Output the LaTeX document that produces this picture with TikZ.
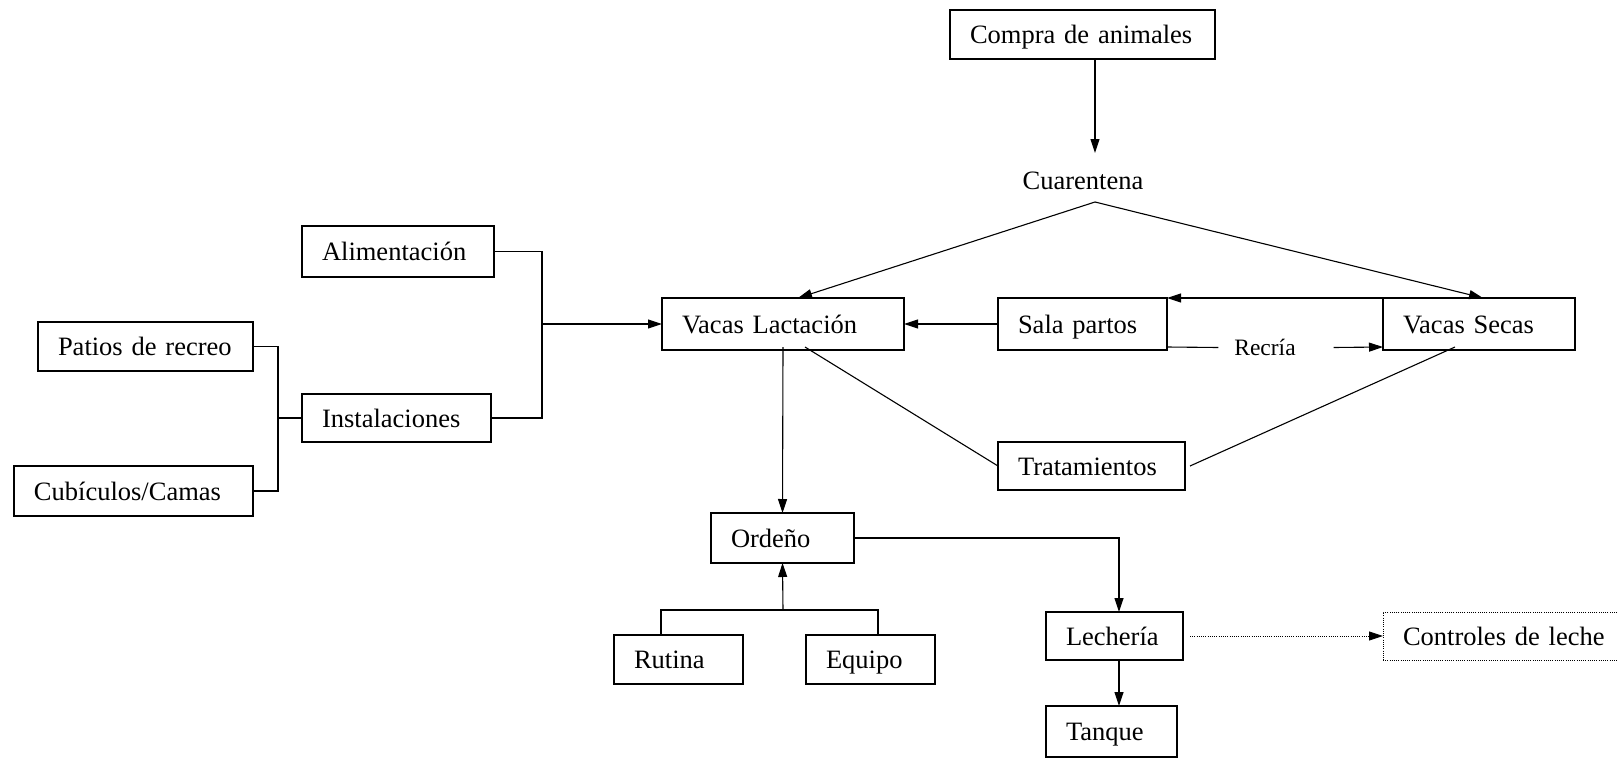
\documentclass[tikz,border=0pt]{standalone}
\usepackage{fontspec}
\setmainfont{Liberation Serif}
\usetikzlibrary{arrows.meta}
\begin{document}
\begin{tikzpicture}[x=1pt,y=-1pt,
  every node/.style={font=\fontsize{26.5}{30}\selectfont, outer sep=0pt, text height=22pt, text depth=4pt},
  bx/.style={draw, line width=1.1pt, align=left, inner xsep=20pt, inner ysep=0pt},
  ln/.style={line width=1.1pt},
  arr/.style={line width=1.1pt, -{Triangle[length=14pt,width=9pt]}},
  dot/.style={dash pattern=on 1pt off 1.2pt, line width=0.9pt}]
\useasboundingbox (0,0) rectangle (1618,758);
\clip (0,0) rectangle (1618,758);
\fill[white] (0,0) rectangle (1618,758);
% nodes
\node[bx, text width=225pt, minimum height=49pt] (compra) at (1082.5,34.5) {Compra de animales};
\node (cuar) at (1083,180) {Cuarentena};
\coordinate (cqtop) at (1095,153);
\coordinate (apex) at (1095,202);
\node[bx, text width=152pt, minimum height=51pt] (alim) at (398,251.5) {Alimentación};
\node[bx, text width=175pt, minimum height=49pt] (patios) at (145.5,346.5) {Patios de recreo};
\node[bx, text width=149pt, minimum height=48pt] (inst) at (396.5,418) {Instalaciones};
\node[bx, text width=199pt, minimum height=50pt] (cubic) at (133.5,491) {Cubículos/Camas};
\node[bx, text width=202pt, minimum height=52pt] (vl) at (783,324) {Vacas Lactación};
\node[bx, text width=129pt, minimum height=52pt] (sala) at (1082.5,324) {Sala partos};
\node[bx, text width=152pt, minimum height=52pt] (vs) at (1479,324) {Vacas Secas};
\node[font=\fontsize{23.5}{28}\selectfont, text height=19pt, text depth=3pt, inner sep=4pt] (recria) at (1265,347) {Recría};
\node[bx, text width=147pt, minimum height=48pt] (trat) at (1091.5,466) {Tratamientos};
\node[bx, text width=103pt, minimum height=50pt] (ord) at (782.5,538) {Ordeño};
\node[bx, text width=97pt, minimum height=48pt] (lech) at (1114.5,636) {Lechería};
\node[bx, text width=89pt, minimum height=49pt] (rutina) at (678.5,659.5) {Rutina};
\node[bx, text width=89pt, minimum height=49pt] (equipo) at (870.5,659.5) {Equipo};
\node[bx, text width=91pt, minimum height=51pt] (tanque) at (1111.5,731.5) {Tanque};
\node[bx, dot, text width=217pt, minimum height=48pt] (ctrl) at (1511.5,636) {Controles de leche};
% connectors
\draw[arr] ([xshift=12.5pt]compra.south) -- (cqtop);
\draw[arr] (apex) -- ([xshift=15pt]vl.north);
\draw[arr] (apex) -- ([xshift=4pt]vs.north);
\coordinate (rb) at (542,324);
\draw[ln] (alim.east) -| (rb) |- (inst.east);
\draw[arr] (rb) -- (vl.west);
\coordinate (lb) at (278,418);
\draw[ln] (patios.east) -| (lb) |- (cubic.east);
\draw[ln] (lb) -- (inst.west);
\draw[arr] (sala.west) -- (vl.east);
\draw[arr] (vs.north west) -- (sala.north east);
\draw[ln] ([yshift=3pt]sala.south east) -- ([xshift=-12pt,yshift=-0.5pt]recria.west);
\draw[arr] ([xshift=34pt,yshift=-0.5pt]recria.east) -- ([yshift=3pt]vs.south west);
\draw[arr] ([yshift=3pt]vl.south) -- (ord.north);
\draw[ln] ([xshift=22pt,yshift=3pt]vl.south) -- (trat.west);
\draw[ln] ([xshift=-24pt,yshift=3pt]vs.south) -- ([xshift=5pt]trat.east);
\draw[arr] (ord.east) -| ([xshift=4.5pt]lech.north);
\coordinate (ob) at (783,610);
\coordinate (rt) at ([xshift=-17.5pt]rutina.north);
\coordinate (eq) at ([xshift=7.5pt]equipo.north);
\draw[ln] (rt) -- (rt|-ob) -- (eq|-ob) -- (eq);
\draw[arr] (ob) -- (ord.south);
\draw[arr] ([xshift=4.5pt]lech.south) -- ([xshift=7.5pt]tanque.north);
\draw[arr, dot] ([xshift=7pt]lech.east) -- (ctrl.west);
\end{tikzpicture}
\end{document}
